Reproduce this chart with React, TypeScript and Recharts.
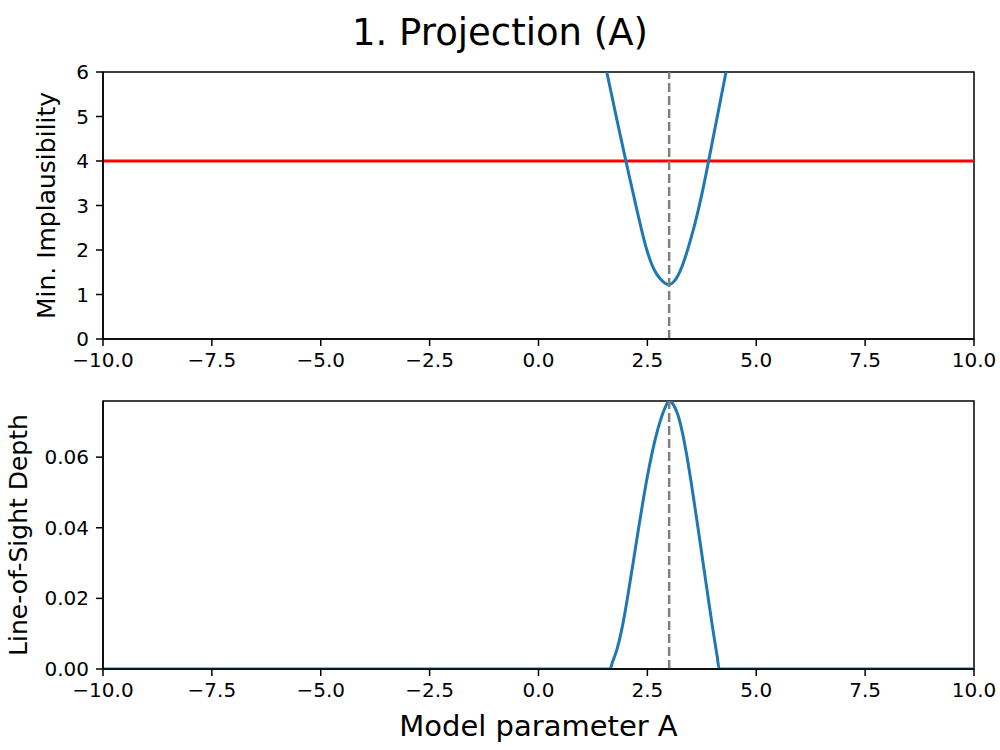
import { LineChart, Line, XAxis, YAxis, ReferenceLine, ReferenceArea, Label } from 'recharts';

// Parameter grid around the projection minimum
const paramA = [
  1.4, 1.5, 1.6, 1.7, 1.8, 1.9, 2.0, 2.1, 2.2, 2.3, 2.4, 2.5, 2.6, 2.7, 2.8, 2.9,
  3.0, 3.1, 3.2, 3.3, 3.4, 3.5, 3.6, 3.7, 3.8, 3.9, 4.0, 4.1, 4.2, 4.3, 4.4, 4.5,
];
const minImplausibility = [
  6.75, 6.3, 5.85, 5.39, 4.93, 4.48, 4.03, 3.59, 3.16, 2.73, 2.32, 1.96, 1.68, 1.48, 1.35, 1.26,
  1.22, 1.28, 1.42, 1.64, 1.93, 2.26, 2.62, 3.03, 3.48, 3.97, 4.47, 4.97, 5.47, 5.97, 6.47, 6.97,
];

const depthA = [
  -10, 1.64, 1.7, 1.8, 1.9, 2.0, 2.1, 2.2, 2.3, 2.4, 2.5, 2.6, 2.7, 2.8, 2.9, 3.0,
  3.1, 3.2, 3.3, 3.4, 3.5, 3.6, 3.7, 3.8, 3.9, 4.0, 4.1, 4.15, 10,
];
const losDepth = [
  0, 0, 0.002, 0.0055, 0.0105, 0.017, 0.0245, 0.0322, 0.04, 0.0475, 0.0545, 0.0607, 0.066, 0.0704, 0.0738, 0.0759,
  0.0748, 0.072, 0.0672, 0.0608, 0.0533, 0.0452, 0.0368, 0.0283, 0.0198, 0.0115, 0.0038, 0, 0,
];

const cutoff = 4;
const trueA = 3;
const depthMax = 0.0759;

const xTicks = [-10, -7.5, -5, -2.5, 0, 2.5, 5, 7.5, 10];
const impTicks = [0, 1, 2, 3, 4, 5, 6];
const depthTicks = [0, 0.02, 0.04, 0.06];

const impData = paramA.map((a, i) => ({ a, imp: minImplausibility[i] }));
const depthData = depthA.map((a, i) => ({ a, depth: losDepth[i] }));

const FONT = '"DejaVu Sans", sans-serif';
const BLUE = '#1f77b4';

const fmtX = (v: number) => v.toFixed(1).replace('-', '\u2212');

const tickStyle = { fill: '#000', fontSize: 20, fontFamily: FONT };
const lineStyle = { stroke: '#000', strokeWidth: 1.5 };

const yLabel = (text: string, dx: number) => (props: any) => {
  const vb = props.viewBox || { x: 0, y: 0, width: 103, height: 267 };
  const x = vb.x + dx;
  const y = vb.y + vb.height / 2;
  return (
    <text
      x={x}
      y={y}
      transform={`rotate(-90 ${x} ${y})`}
      textAnchor="middle"
      fontSize={25}
      fontFamily={FONT}
      fill="#000"
    >
      {text}
    </text>
  );
};

const xLabel = (props: any) => {
  const vb = props.viewBox || { x: 103, y: 289, width: 871, height: 81 };
  return (
    <text
      x={vb.x + vb.width / 2}
      y={vb.y + 67}
      textAnchor="middle"
      fontSize={29}
      fontFamily={FONT}
      fill="#000"
    >
      Model parameter A
    </text>
  );
};

export default function App() {
  return (
    <div
      style={{
        position: 'absolute',
        left: 0,
        top: 0,
        width: 1000,
        height: 750,
        background: '#fff',
        fontFamily: FONT,
      }}
    >
      <div
        style={{
          position: 'absolute',
          top: 11,
          left: 0,
          width: 1000,
          textAlign: 'center',
          fontSize: 37,
          lineHeight: 'normal',
          color: '#000',
        }}
      >
        1. Projection (A)
      </div>

      {/* Top panel: minimum implausibility */}
      <div style={{ position: 'absolute', top: 0, left: 0 }}>
        <LineChart width={1000} height={380} data={impData} margin={{ top: 72, right: 26, bottom: 0, left: 0 }}>
          <XAxis
            type="number"
            dataKey="a"
            domain={[-10, 10]}
            ticks={xTicks}
            interval={0}
            allowDataOverflow
            tickFormatter={fmtX}
            height={41}
            tick={tickStyle}
            tickLine={lineStyle}
            axisLine={lineStyle}
            tickSize={7}
            tickMargin={7}
          />
          <YAxis
            type="number"
            domain={[0, 6]}
            ticks={impTicks}
            interval={0}
            allowDataOverflow
            width={103}
            tick={tickStyle}
            tickLine={lineStyle}
            axisLine={lineStyle}
            tickSize={7}
            tickMargin={7}
          >
            <Label content={yLabel('Min. Implausibility', 55)} />
          </YAxis>
          <ReferenceLine y={cutoff} stroke="#ff0000" strokeWidth={3} />
          <Line
            type="monotone"
            dataKey="imp"
            stroke={BLUE}
            strokeWidth={3}
            dot={false}
            activeDot={false}
            isAnimationActive={false}
          />
          <ReferenceLine x={trueA} stroke="#808080" strokeWidth={2.5} strokeDasharray="9 4" />
          <ReferenceArea x1={-10} x2={10} y1={0} y2={6} fill="none" stroke="#000" strokeWidth={1.5} />
        </LineChart>
      </div>

      {/* Bottom panel: line-of-sight depth */}
      <div style={{ position: 'absolute', top: 380, left: 0 }}>
        <LineChart width={1000} height={370} data={depthData} margin={{ top: 21, right: 26, bottom: 0, left: 0 }}>
          <XAxis
            type="number"
            dataKey="a"
            domain={[-10, 10]}
            ticks={xTicks}
            interval={0}
            allowDataOverflow
            tickFormatter={fmtX}
            height={81}
            tick={tickStyle}
            tickLine={lineStyle}
            axisLine={lineStyle}
            tickSize={7}
            tickMargin={7}
          >
            <Label content={xLabel} />
          </XAxis>
          <YAxis
            type="number"
            domain={[0, depthMax]}
            ticks={depthTicks}
            interval={0}
            allowDataOverflow
            tickFormatter={(v: number) => v.toFixed(2)}
            width={103}
            tick={tickStyle}
            tickLine={lineStyle}
            axisLine={lineStyle}
            tickSize={7}
            tickMargin={7}
          >
            <Label content={yLabel('Line-of-Sight Depth', 27)} />
          </YAxis>
          <Line
            type="monotone"
            dataKey="depth"
            stroke={BLUE}
            strokeWidth={3}
            dot={false}
            activeDot={false}
            isAnimationActive={false}
          />
          <ReferenceLine x={trueA} stroke="#808080" strokeWidth={2.5} strokeDasharray="9 4" />
          <ReferenceArea x1={-10} x2={10} y1={0} y2={depthMax} fill="none" stroke="#000" strokeWidth={1.5} />
        </LineChart>
      </div>
    </div>
  );
}
